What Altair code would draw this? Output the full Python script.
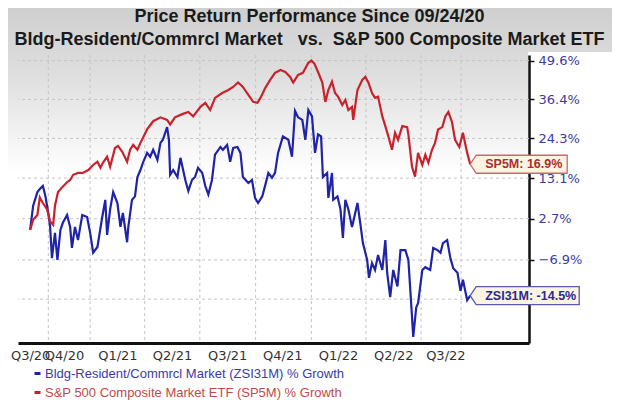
import altair as alt
import pandas as pd

# ---------------- data ----------------
title_lines = [
    "Price Return Performance Since 09/24/20",
    "Bldg-Resident/Commrcl Market\u00a0\u00a0\u00a0vs.\u00a0\u00a0S&P 500 Composite Market ETF",
]
start_date = "2020-09-24"
series_names = [
    "Bldg-Resident/Commrcl Market (ZSI31M) % Growth",
    "S&P 500 Composite Market ETF (SP5M) % Growth",
]
series_colors = ["#1f23a8", "#c8232c"]
label_colors = ["#3b3ba6", "#bf4a4a"]

# days after 09/24/20 and % price return
zsi_days = [0, 5, 12, 16, 21, 25, 30, 33, 36, 41, 45, 50, 54, 61, 66, 69, 74, 79, 86, 94,
            99, 104, 111, 119, 124, 127, 132, 137, 144, 149, 153, 160, 162, 168, 173, 177, 182, 186, 193, 198,
            203, 210, 215, 219, 226, 229, 231, 236, 243, 248, 256, 261, 267, 272, 277, 284, 289, 294, 300, 305,
            314, 318, 325, 330, 335, 342, 347, 351, 360, 366, 371, 376, 383, 388, 393, 399, 404, 409, 417, 426,
            432, 437, 442, 449, 454, 459, 465, 470, 475, 480, 483, 490, 492, 498, 500, 507, 512, 516, 520, 525,
            531, 533, 540, 545, 549, 556, 559, 564, 569, 574, 581, 586, 589, 594, 599, 606, 611, 619, 624, 629,
            632, 637, 640, 647, 652, 660, 665, 672, 677, 681, 688, 693, 698, 705, 710, 714, 721, 726]
zsi_pct = [0.0, 5.9, 9.4, 10.2, 11.0, 8.5, 4.1, 0.7, -6.5, -0.7, -6.9, 0.0, 1.7, 3.6, 0.7, -4.2, 0.7, -2.4, 3.6, 3.1,
           -0.7, -5.3, -4.0, 3.1, 7.4, -1.2, 5.0, 9.4, 6.6, 0.7, 4.1, -2.9, 0.7, 7.4, 8.3, 13.4, 15.3, 17.3, 20.1, 19.0,
           21.0, 18.1, 23.0, 23.9, 27.7, 23.9, 14.0, 15.3, 13.4, 18.7, 12.6, 9.7, 12.6, 13.4, 15.9, 14.5, 11.0, 8.8, 12.6, 19.6,
           21.8, 21.0, 22.4, 17.6, 21.5, 21.8, 20.1, 13.4, 11.8, 12.6, 7.9, 6.6, 8.3, 11.3, 14.5, 13.2, 14.5, 20.1, 24.9, 23.9,
           19.0, 32.7, 30.7, 29.9, 23.9, 33.0, 31.0, 20.1, 25.5, 24.9, 13.4, 14.5, 7.9, 14.5, 7.4, 8.3, 5.0, -1.9, 7.4, 5.0,
           0.7, 1.9, 6.6, 1.2, -3.1, -6.9, -10.8, -7.6, -9.1, -5.8, -9.1, -2.4, -9.7, -14.8, -9.1, -12.6, -4.7, -4.7, -6.9, -16.8,
           -22.5, -16.8, -16.0, -9.1, -8.5, -9.1, -4.2, -4.7, -5.3, -3.1, -2.4, -6.3, -8.7, -9.7, -13.5, -11.2, -15.4, -14.5]

sp_days = [0, 5, 12, 16, 21, 28, 33, 38, 41, 46, 53, 61, 66, 71, 79, 87, 96, 104, 111, 116,
           120, 127, 132, 140, 145, 152, 160, 165, 170, 177, 182, 193, 203, 215, 226, 231, 239, 251, 261, 269,
           281, 289, 297, 305, 317, 327, 335, 343, 351, 360, 368, 375, 380, 388, 396, 404, 413, 421, 429, 434,
           442, 450, 459, 464, 469, 475, 482, 487, 492, 498, 503, 508, 515, 520, 525, 531, 533, 540, 548, 553,
           558, 564, 569, 574, 581, 586, 591, 597, 602, 607, 614, 622, 624, 630, 635, 640, 647, 652, 657, 663,
           668, 673, 680, 685, 690, 696, 701, 708, 714, 721, 726]
sp_pct = [0.0, 2.4, 3.6, 8.0, 6.6, 5.0, 2.0, 1.2, 5.9, 9.4, 10.7, 12.0, 12.6, 14.0, 14.5, 14.5, 15.3, 16.7, 17.6, 15.9,
          17.3, 19.0, 16.2, 21.5, 22.1, 20.4, 17.6, 21.0, 22.4, 21.0, 23.0, 27.0, 29.5, 30.7, 29.9, 28.5, 30.7, 31.7, 32.4, 31.0,
          34.0, 35.3, 33.0, 36.9, 38.5, 39.5, 40.5, 42.0, 40.5, 37.9, 35.6, 35.3, 36.9, 40.2, 42.9, 45.3, 46.3, 45.6, 43.9, 42.0,
          44.6, 45.3, 48.8, 49.6, 48.5, 45.6, 42.0, 35.6, 39.5, 42.3, 38.5, 37.3, 34.6, 36.2, 33.0, 34.0, 29.9, 39.5, 42.9, 43.9,
          42.0, 38.5, 36.9, 37.3, 31.0, 28.0, 24.9, 21.0, 26.0, 23.9, 28.0, 27.7, 25.5, 16.2, 13.5, 20.1, 16.7, 19.6, 17.3, 21.0,
          23.0, 27.0, 27.7, 31.0, 32.4, 29.2, 23.9, 21.8, 26.0, 20.1, 16.9]

y_tick_pct = [49.6, 36.4, 24.3, 13.1, 2.7, -6.9, -15.2]
y_domain_pct = [-23.6, 51.6]
x_domain = ["2020-09-04", "2022-12-26"]
quarter_label_dates = ["2020-09-24", "2020-11-19", "2021-02-15", "2021-05-16", "2021-08-15",
                       "2021-11-14", "2022-02-14", "2022-05-16", "2022-08-10"]
grid_dates = ["2020-10-24", "2021-01-01", "2021-04-01", "2021-07-01", "2021-10-01",
              "2022-01-01", "2022-04-01", "2022-07-01", "2022-09-05"]
tag_texts = ["ZSI31M: -14.5%", "SP5M: 16.9%"]
tag_pct = [-14.5, 16.9]

# ---------------- tables ----------------
t0 = pd.Timestamp(start_date)
lines = pd.concat([
    pd.DataFrame({"date": [(t0 + pd.Timedelta(days=d)).strftime("%Y-%m-%d") for d in zsi_days],
                  "idx": [100 + v for v in zsi_pct], "series": series_names[0]}),
    pd.DataFrame({"date": [(t0 + pd.Timedelta(days=d)).strftime("%Y-%m-%d") for d in sp_days],
                  "idx": [100 + v for v in sp_pct], "series": series_names[1]}),
])
last_date = (t0 + pd.Timedelta(days=sp_days[-1])).strftime("%Y-%m-%d")
tags = pd.DataFrame({"date": [last_date, last_date], "idx": [100 + v for v in tag_pct],
                     "text": tag_texts, "series": series_names})
hgrid = pd.DataFrame({"idx": [100 + v for v in y_tick_pct]})
vgrid = pd.DataFrame({"date": grid_dates})


def dt(s):
    t = pd.Timestamp(s)
    return alt.DateTime(year=t.year, month=t.month, date=t.day, utc=True)


xscale = alt.Scale(type="utc", domain=[dt(x_domain[0]), dt(x_domain[1])], nice=False)
yscale = alt.Scale(type="log", domain=[100 + y_domain_pct[0], 100 + y_domain_pct[1]], nice=False)

x_axis = alt.Axis(values=[dt(d) for d in quarter_label_dates],
                  labelExpr="'Q' + utcquarter(datum.value) + '/' + utcFormat(datum.value, '%y')",
                  grid=False, ticks=False, domainColor="#111111", domainWidth=3,
                  labelFont="DejaVu Sans", labelFontSize=13, labelColor="#333333",
                  labelPadding=6, labelOverlap=False, labelFlush=False, title=None)
y_axis = alt.Axis(orient="right", values=[100 + v for v in y_tick_pct],
                  labelExpr="datum.value < 90 ? '' : format(datum.value - 100, '.1f') + '%'",
                  grid=False, domainColor="#111111", domainWidth=2.5, tickColor="#111111",
                  tickSize=5, tickWidth=1.5, labelFont="DejaVu Sans", labelFontSize=13,
                  labelColor="#3b3ba6", labelPadding=4, labelOverlap=False, labelFlush=False,
                  title=None)

X = lambda: alt.X("date:T", scale=xscale, axis=x_axis)
Y = lambda: alt.Y("idx:Q", scale=yscale, axis=y_axis)


def grad(stops):
    return alt.LinearGradient(gradient="linear", x1=0, x2=0, y1=0, y2=1,
                              stops=[alt.GradientStop(color=c, offset=o) for o, c in stops])


one = pd.DataFrame({"a": [0]})
# gray band behind the title (whole width) and behind the top of the plot area
bg_title = alt.Chart(one).mark_rect(color=grad([(0, "#cfcfcf"), (1, "#d9d9d9")])).encode(
    x=alt.value(-10), x2=alt.value(594), y=alt.value(-47), y2=alt.value(-3))
bg_plot = alt.Chart(one).mark_rect(color=grad([(0, "#d9d9d9"), (0.18, "#dedede"), (1, "#ffffff")])).encode(
    x=alt.value(-10), x2=alt.value(510), y=alt.value(-3), y2=alt.value(118))

hg = alt.Chart(hgrid).mark_rule(color="#c4c4c4", strokeDash=[3, 3], strokeWidth=1).encode(y=Y())
vg = alt.Chart(vgrid).mark_rule(color="#c4c4c4", strokeDash=[3, 3], strokeWidth=1).encode(x=X())

legend = alt.Legend(title=None, orient="none", legendX=13, legendY=312, direction="vertical",
                    symbolType="M-1,0L1,0", symbolSize=36, symbolStrokeWidth=3,
                    labelFont="Liberation Sans", labelFontSize=13, labelOffset=1, labelLimit=500,
                    rowPadding=5, padding=0,
                    labelColor={"expr": "indexof(datum.label, 'S&P') >= 0 ? '%s' : '%s'" % (label_colors[1], label_colors[0])})

ln = alt.Chart(lines).mark_line(strokeWidth=2.2, interpolate="linear").encode(
    x=X(), y=Y(),
    color=alt.Color("series:N", scale=alt.Scale(domain=series_names, range=series_colors), legend=legend),
    order=alt.Order("date:T"),
)

tag_layers = []
for i, (w, stroke_c, text_c) in enumerate([(2.18, "#5a5ab4", "#2a2a8c"), (1.94, "#d06666", "#a83030")]):
    sub = tags[tags["series"] == series_names[i]]
    shape = "M0,0L0.12,-0.18L%.2f,-0.18L%.2f,0.18L0.12,0.18Z" % (w, w)
    tag_layers.append(alt.Chart(sub).mark_point(shape=shape, size=10000, filled=True, fill="#fcf4e2",
                                                stroke=stroke_c, strokeWidth=1.3, opacity=1).encode(
        x=X(), y=Y()))
    tag_layers.append(alt.Chart(sub).mark_text(align="left", baseline="middle", dx=15, font="Liberation Sans",
                                               fontWeight="bold", fontSize=12.5, color=text_c).encode(
        x=X(), y=Y(), text="text:N"))

chart = alt.layer(bg_title, bg_plot, hg, vg, ln, *tag_layers).properties(
    width=511, height=288,
    padding={"left": 10, "top": 47, "right": 83, "bottom": 57},
    autosize=alt.AutoSizeParams(type="none"),
    title=alt.TitleParams(text=title_lines, font="Liberation Sans", fontSize=18, fontWeight="bold",
                          color="#1a1a1a", anchor="middle", frame="group", dx=36, offset=-41,
                          lineHeight=23),
).configure(background="#ffffff").configure_view(stroke=None)

chart.save("out.html", embed_options={"renderer": "svg", "actions": False})
